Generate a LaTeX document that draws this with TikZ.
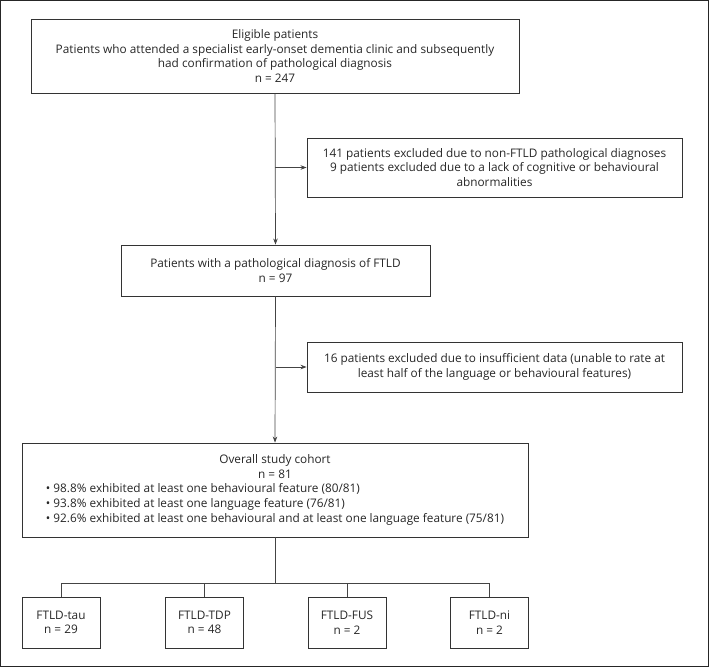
\documentclass[tikz,border=0pt]{standalone}
\usepackage{fontspec}
\setmainfont{Open Sans}
\usetikzlibrary{arrows.meta}
\definecolor{boxline}{HTML}{333333}
\definecolor{conn}{HTML}{444444}
\definecolor{txt}{HTML}{262626}
\tikzset{
  every node/.style={font=\fontsize{11.8}{14.6}\selectfont, text=txt},
  boxnode/.style={draw=boxline, line width=0.9pt, rectangle, align=center, inner sep=0pt},
  conline/.style={draw=conn, line width=0.7pt},
  arrowline/.style={conline, -{Stealth[length=6pt,width=4.5pt]}},
}
\begin{document}
\begin{tikzpicture}[x=1pt,y=-1pt]
\useasboundingbox (0,0) rectangle (709,667);
\draw[draw=black!85, line width=1.2pt] (0.8,0.8) rectangle (708.2,666.2);

\node[boxnode, minimum width=488pt, minimum height=74pt] (top) at (275,56)
  {Eligible patients\\Patients who attended a specialist early-onset dementia clinic and subsequently\\had confirmation of pathological diagnosis\\n = 247};

\node[boxnode, minimum width=375pt, minimum height=59pt] (ex1) at (494.5,167.5)
  {141 patients excluded due to non-FTLD pathological diagnoses\\9 patients excluded due to a lack of cognitive or behavioural\\abnormalities};

\node[boxnode, minimum width=309pt, minimum height=51pt] (ftld) at (275.5,270.5)
  {Patients with a pathological diagnosis of FTLD\\n = 97};

\node[boxnode, minimum width=375pt, minimum height=50pt] (ex2) at (494.5,367)
  {16 patients excluded due to insufficient data (unable to rate at\\least half of the language or behavioural features)};

\node[boxnode, minimum width=506pt, minimum height=94pt] (coh) at (275,490)
  {\begin{tabular}{@{}l@{}}
   \multicolumn{1}{@{}c@{}}{Overall study cohort}\\
   \multicolumn{1}{@{}c@{}}{n = 81}\\
   • 98.8\% exhibited at least one behavioural feature (80/81)\\
   • 93.8\% exhibited at least one language feature (76/81)\\
   • 92.6\% exhibited at least one behavioural and at least one language feature (75/81)
   \end{tabular}};

\node[boxnode, minimum width=78pt, minimum height=51pt] (tau) at (61,622.5) {FTLD-tau\\n = 29};
\node[boxnode, minimum width=78pt, minimum height=51pt] (tdp) at (204.5,622.5) {FTLD-TDP\\n = 48};
\node[boxnode, minimum width=78pt, minimum height=51pt] (fus) at (347,622.5) {FTLD-FUS\\n = 2};
\node[boxnode, minimum width=78pt, minimum height=51pt] (ni) at (489.5,622.5) {FTLD-ni\\n = 2};

\coordinate (b1) at (top.south |- ex1.west);
\coordinate (b2) at (ftld.south |- ex2.west);
\coordinate (hub) at (275,583);

\draw[arrowline] (top.south) -- (ftld.north);
\draw[arrowline] (b1) -- (ex1.west);
\draw[arrowline] (ftld.south) -- (coh.north);
\draw[arrowline] (b2) -- (ex2.west);

\draw[conline] (coh.south) -- (hub);
\draw[conline] (tau.north) |- (hub);
\draw[conline] (tdp.north) |- (hub);
\draw[conline] (fus.north) |- (hub);
\draw[conline] (ni.north) |- (hub);
\end{tikzpicture}
\end{document}
